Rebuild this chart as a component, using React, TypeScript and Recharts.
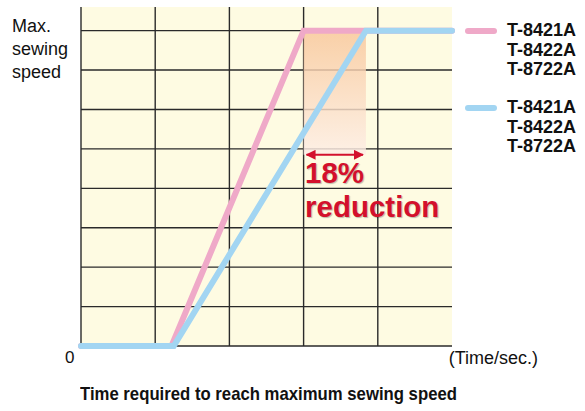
import {
  CartesianGrid,
  Line,
  LineChart,
  ReferenceArea,
  ReferenceLine,
  XAxis,
  YAxis,
} from "recharts";

// time axis in grid columns, speed axis in grid rows
const pinkTimes = [0, 1.22, 3.0, 5.0];
const blueTimes = [0, 1.25, 3.84, 5.0];
const speeds = [0, 0, 8, 8];

const xTicks = [0, 1, 2, 3, 4];
const yTicks = [0, 1, 2, 3, 4, 5, 6, 7, 8];

const legendModels = ["T-8421A", "T-8422A", "T-8722A"];

const pinkData = pinkTimes.map((t, i) => ({ t, v: speeds[i] }));
const blueData = blueTimes.map((t, i) => ({ t, v: speeds[i] }));

const PINK = "#efa9c8";
const BLUE = "#a2d5f2";
const RED = "#d3102c";

const NoTick = () => <g />;

const App = () => {
  return (
    <div
      style={{
        position: "absolute",
        left: 0,
        top: 0,
        width: 585,
        height: 411,
        background: "#fff",
        fontFamily: "'Liberation Sans', Arial, sans-serif",
      }}
    >
      <LineChart
        width={585}
        height={411}
        margin={{ top: 7, right: 133, bottom: 64, left: 80 }}
      >
        <defs>
          <linearGradient id="shade" x1="0" y1="0" x2="0" y2="1">
            <stop offset="0%" stopColor="#f8c69a" />
            <stop offset="100%" stopColor="#fdeee6" />
          </linearGradient>
          <marker
            id="arrowHead"
            viewBox="0 0 10 10"
            refX="9"
            refY="5"
            markerWidth="5"
            markerHeight="5"
            orient="auto-start-reverse"
          >
            <path d="M0,0 L10,5 L0,10 z" fill={RED} />
          </marker>
        </defs>
        <XAxis
          type="number"
          dataKey="t"
          domain={[0, 5]}
          ticks={xTicks}
          tick={NoTick}
          tickLine={false}
          axisLine={false}
          height={1}
          interval={0}
        />
        <YAxis
          type="number"
          dataKey="v"
          domain={[0, 8.6]}
          ticks={yTicks}
          tick={NoTick}
          tickLine={false}
          axisLine={false}
          width={1}
          interval={0}
        />
        <CartesianGrid
          stroke="#2a2a2a"
          strokeWidth={1.4}
          fill="#fefbe2"
          fillOpacity={1}
          syncWithTicks
        />
        <ReferenceArea
          x1={3.0}
          x2={3.84}
          y1={4.85}
          y2={8}
          fill="url(#shade)"
          fillOpacity={0.82}
          stroke="none"
        />
        <Line
          data={pinkData}
          dataKey="v"
          stroke={PINK}
          strokeWidth={6}
          strokeLinecap="round"
          dot={false}
          activeDot={false}
          isAnimationActive={false}
        />
        <Line
          data={blueData}
          dataKey="v"
          stroke={BLUE}
          strokeWidth={6}
          strokeLinecap="round"
          dot={false}
          activeDot={false}
          isAnimationActive={false}
        />
        <ReferenceLine
          segment={[
            { x: 3.04, y: 4.85 },
            { x: 3.8, y: 4.85 },
          ]}
          stroke={RED}
          strokeWidth={2}
          markerStart="url(#arrowHead)"
          markerEnd="url(#arrowHead)"
        />
      </LineChart>

      <div
        style={{
          position: "absolute",
          left: 12,
          top: 15,
          fontSize: 18,
          lineHeight: "23px",
          color: "#111",
        }}
      >
        Max.
        <br />
        sewing
        <br />
        speed
      </div>

      <div
        style={{
          position: "absolute",
          left: 305,
          top: 156,
          fontSize: 29.5,
          lineHeight: "34px",
          fontWeight: "bold",
          color: RED,
          textShadow: "1px 1px 1px rgba(0,0,0,0.25)",
        }}
      >
        18%
        <br />
        reduction
      </div>

      {[PINK, BLUE].map((c, k) => (
        <div key={c}>
          <div
            style={{
              position: "absolute",
              left: 465,
              top: k === 0 ? 28 : 105,
              width: 32,
              height: 6,
              borderRadius: 3,
              background: c,
            }}
          />
          <div
            style={{
              position: "absolute",
              left: 507,
              top: k === 0 ? 21 : 98,
              fontSize: 18,
              lineHeight: "19.5px",
              fontWeight: "bold",
              color: "#111",
            }}
          >
            {legendModels.map((m) => (
              <div key={m}>{m}</div>
            ))}
          </div>
        </div>
      ))}

      <div
        style={{
          position: "absolute",
          left: 65,
          top: 348,
          fontSize: 17,
          color: "#111",
        }}
      >
        0
      </div>
      <div
        style={{
          position: "absolute",
          right: 47,
          top: 348,
          fontSize: 18,
          color: "#111",
        }}
      >
        (Time/sec.)
      </div>
      <div
        style={{
          position: "absolute",
          left: 80,
          top: 383,
          fontSize: 19,
          fontWeight: "bold",
          color: "#111",
          whiteSpace: "nowrap",
          transform: "scaleX(0.88)",
          transformOrigin: "0 0",
        }}
      >
        Time required to reach maximum sewing speed
      </div>
    </div>
  );
};

export default App;
